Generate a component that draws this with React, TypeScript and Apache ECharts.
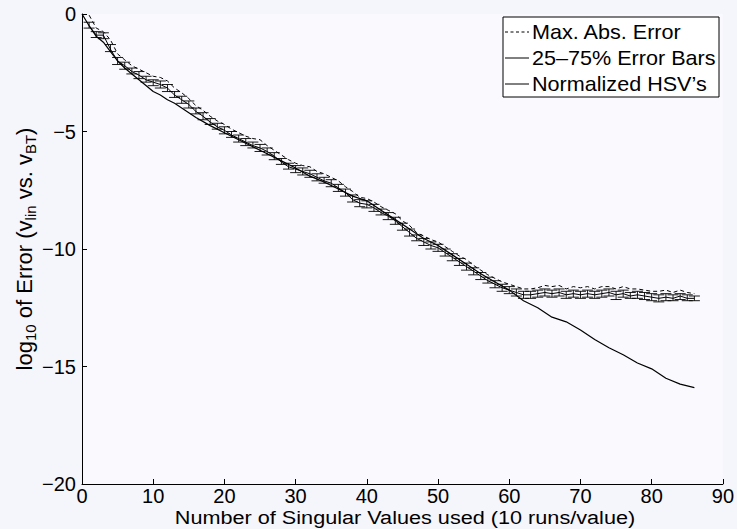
import React, { useEffect, useRef } from 'react';
import * as echarts from 'echarts';

// Number of singular values used: 1..86 (median of 10 runs)
const medianErr = [
  -0.5, -0.9, -0.9, -1.5, -2.0, -2.2, -2.45, -2.6, -2.8, -2.9,
  -3.0, -3.15, -3.45, -3.65, -3.85, -4.15, -4.35, -4.6, -4.8, -4.95,
  -5.15, -5.3, -5.45, -5.6, -5.7, -5.85, -6.05, -6.3, -6.5, -6.6,
  -6.7, -6.8, -6.95, -7.1, -7.2, -7.4, -7.6, -7.9, -8.05, -8.1,
  -8.25, -8.45, -8.6, -8.8, -9.05, -9.3, -9.55, -9.7, -9.85, -9.95,
  -10.15, -10.35, -10.55, -10.75, -10.95, -11.15, -11.35, -11.5, -11.65, -11.75,
  -11.85, -11.95, -11.95, -11.9, -11.85, -11.9, -11.85, -11.95, -11.9, -11.95,
  -11.9, -11.95, -11.9, -11.85, -11.95, -11.9, -12.0, -11.95, -12.0, -12.05,
  -12.1, -12.05, -12.1, -12.0, -12.1, -12.1,
];

const q75Err = [
  -0.35, -0.75, -0.8, -1.3, -1.85, -2.05, -2.3, -2.45, -2.65, -2.8,
  -2.85, -3.0, -3.3, -3.5, -3.7, -4.0, -4.2, -4.45, -4.65, -4.8,
  -5.0, -5.15, -5.3, -5.45, -5.55, -5.7, -5.9, -6.15, -6.35, -6.45,
  -6.55, -6.65, -6.8, -6.95, -7.05, -7.25, -7.45, -7.7, -7.9, -7.95,
  -8.1, -8.3, -8.45, -8.65, -8.9, -9.15, -9.4, -9.55, -9.7, -9.8,
  -10.0, -10.2, -10.4, -10.6, -10.8, -11.0, -11.2, -11.35, -11.5, -11.6,
  -11.7, -11.8, -11.8, -11.75, -11.7, -11.75, -11.7, -11.8, -11.75, -11.8,
  -11.75, -11.8, -11.75, -11.7, -11.8, -11.75, -11.85, -11.8, -11.85, -11.9,
  -11.95, -11.9, -11.95, -11.9, -11.95, -12.0,
];

const q25Err = [
  -0.6, -1.0, -1.05, -1.6, -2.15, -2.35, -2.55, -2.75, -2.9, -3.05,
  -3.15, -3.3, -3.55, -3.8, -4.0, -4.25, -4.5, -4.7, -4.9, -5.1,
  -5.25, -5.45, -5.6, -5.7, -5.85, -6.0, -6.2, -6.4, -6.6, -6.75,
  -6.85, -6.95, -7.1, -7.2, -7.35, -7.55, -7.75, -8.0, -8.2, -8.25,
  -8.4, -8.55, -8.75, -8.95, -9.2, -9.45, -9.65, -9.85, -10.0, -10.1,
  -10.3, -10.5, -10.7, -10.9, -11.1, -11.3, -11.45, -11.65, -11.8, -11.9,
  -12.0, -12.1, -12.1, -12.05, -12.0, -12.05, -12.0, -12.1, -12.05, -12.1,
  -12.05, -12.1, -12.05, -12.0, -12.15, -12.05, -12.1, -12.1, -12.15, -12.2,
  -12.25, -12.2, -12.2, -12.15, -12.2, -12.2,
];

const maxAbsErr = [
  -0.05, -0.6, -0.75, -1.1, -1.7, -1.95, -2.2, -2.35, -2.5, -2.65,
  -2.7, -2.85, -3.15, -3.35, -3.6, -3.9, -4.1, -4.35, -4.55, -4.7,
  -4.9, -5.05, -5.2, -5.3, -5.35, -5.6, -5.8, -6.0, -6.2, -6.35,
  -6.45, -6.5, -6.7, -6.8, -6.95, -7.1, -7.35, -7.55, -7.8, -7.85,
  -8.0, -8.2, -8.35, -8.5, -8.8, -9.0, -9.3, -9.45, -9.6, -9.7,
  -9.9, -10.1, -10.3, -10.45, -10.7, -10.9, -11.1, -11.25, -11.4, -11.5,
  -11.6, -11.7, -11.7, -11.65, -11.55, -11.6, -11.55, -11.7, -11.6, -11.65,
  -11.6, -11.7, -11.6, -11.6, -11.7, -11.6, -11.7, -11.7, -11.75, -11.8,
  -11.8, -11.75, -11.85, -11.75, -11.85, -11.9,
];

// Normalized HSV curve: [number of singular values, log10 error]
const hsvPoints: [number, number][] = [
  [0, 0], [1, -0.5], [2, -0.95], [3, -1.2], [4, -1.6], [5, -2.0], [6, -2.3],
  [7, -2.55], [8, -2.8], [10, -3.3], [11, -3.45], [12, -3.65], [13, -3.8],
  [14, -4.0], [16, -4.4], [18, -4.75], [20, -5.05], [22, -5.35], [24, -5.65],
  [26, -5.95], [28, -6.25], [30, -6.55], [32, -6.9], [34, -7.15], [36, -7.45],
  [38, -7.75], [40, -7.95], [42, -8.35], [44, -8.75], [46, -9.15], [48, -9.55],
  [50, -9.85], [52, -10.25], [54, -10.65], [56, -11.05], [58, -11.4], [60, -11.75],
  [62, -12.2], [64, -12.5], [66, -12.9], [68, -13.1], [70, -13.45], [72, -13.85],
  [74, -14.2], [76, -14.5], [78, -14.85], [80, -15.1], [82, -15.5], [84, -15.75],
  [86, -15.9],
];

const xTicks = [0, 10, 20, 30, 40, 50, 60, 70, 80, 90];
const yTicks = [-20, -15, -10, -5, 0];

const legendNames = ['Max. Abs. Error', '25–75% Error Bars', 'Normalized HSV’s'];
const legendDash = [true, false, false];

const FONT = '"Liberation Sans", Arial, Helvetica, sans-serif';

export default function App() {
  const ref = useRef<HTMLDivElement>(null);

  useEffect(() => {
    document.body.style.margin = '0';
    if (!ref.current) return;
    const chart = echarts.init(ref.current, undefined, { renderer: 'svg' });

    const xs = medianErr.map((_, i) => i + 1);
    const medianData = xs.map((x, i) => [x, medianErr[i]]);
    const maxData = xs.map((x, i) => [x, maxAbsErr[i]]);
    const barData = xs.map((x, i) => [x, q25Err[i], q75Err[i]]);

    const fmt = (v: number) => (v < 0 ? '\u2212' + String(-v) : String(v));

    const legendItems: any[] = [];
    legendNames.forEach((name, i) => {
      const cy = 32 + i * 26;
      legendItems.push({
        type: 'line',
        z: 11,
        shape: { x1: 505, y1: cy, x2: 529, y2: cy },
        style: { stroke: '#000', lineWidth: 1, lineDash: legendDash[i] ? [3, 2.5] : null },
      });
      legendItems.push({
        type: 'text',
        z: 11,
        x: 532,
        y: cy,
        scaleX: 1.08,
        style: {
          text: name,
          fill: '#000',
          font: '20px ' + FONT,
          textAlign: 'left',
          textVerticalAlign: 'middle',
        },
      });
    });

    chart.setOption({
      animation: false,
      backgroundColor: '#f5f5fc',
      grid: {
        left: 82,
        right: 12,
        top: 14,
        bottom: 45,
        show: true,
        backgroundColor: '#f9f9fe',
        borderWidth: 0,
      },
      xAxis: {
        type: 'value',
        min: xTicks[0],
        max: xTicks[xTicks.length - 1],
        interval: 10,
        axisLine: { show: true, onZero: false, lineStyle: { color: '#000', width: 1 } },
        axisTick: { show: true, inside: true, length: 5, lineStyle: { color: '#000' } },
        axisLabel: { color: '#000', fontSize: 20, fontFamily: FONT, margin: 2 },
        splitLine: { show: false },
      },
      yAxis: {
        type: 'value',
        min: yTicks[0],
        max: yTicks[yTicks.length - 1],
        interval: 5,
        axisLine: { show: true, onZero: false, lineStyle: { color: '#000', width: 1 } },
        axisTick: { show: true, inside: true, length: 5, lineStyle: { color: '#000' } },
        axisLabel: { color: '#000', fontSize: 20, fontFamily: FONT, margin: 6, formatter: fmt },
        splitLine: { show: false },
      },
      graphic: [
        {
          type: 'rect',
          z: 10,
          shape: { x: 503, y: 17, width: 216, height: 80 },
          style: { fill: '#ffffff', stroke: '#000', lineWidth: 1 },
        },
        ...legendItems,
        {
          type: 'text',
          x: 405,
          y: 517,
          scaleX: 1.14,
          style: {
            text: 'Number of Singular Values used (10 runs/value)',
            fill: '#000',
            font: '19px ' + FONT,
            textAlign: 'center',
            textVerticalAlign: 'middle',
          },
        },
        {
          type: 'text',
          x: 24,
          y: 249,
          rotation: Math.PI / 2,
          style: {
            text: '{m|log}{s|10}{m| of Error (v}{s|lin}{m| vs. v}{s|BT}{m|)}',
            fill: '#000',
            textAlign: 'center',
            textVerticalAlign: 'middle',
            rich: {
              m: { fontSize: 22, fontFamily: FONT, color: '#000', lineHeight: 28, verticalAlign: 'middle' },
              s: { fontSize: 15, fontFamily: FONT, color: '#000', lineHeight: 15, verticalAlign: 'bottom' },
            },
          },
        },
      ],
      series: [
        {
          name: 'Max. Abs. Error',
          type: 'line',
          data: maxData,
          symbol: 'none',
          lineStyle: { color: '#000', width: 1, type: [4, 3] },
          itemStyle: { color: '#000' },
          z: 3,
        },
        {
          name: 'errbars',
          type: 'custom',
          data: barData,
          encode: { x: 0, y: [1, 2] },
          z: 3,
          renderItem: (params: any, api: any) => {
            const x = api.value(0);
            const lo = api.coord([x, api.value(1)]);
            const hi = api.coord([x, api.value(2)]);
            const hw = 5.5;
            const style = { stroke: '#000', lineWidth: 0.9 };
            return {
              type: 'group',
              children: [
                { type: 'line', shape: { x1: lo[0], y1: lo[1], x2: hi[0], y2: hi[1] }, style },
                { type: 'line', shape: { x1: lo[0] - hw, y1: lo[1], x2: lo[0] + hw, y2: lo[1] }, style },
                { type: 'line', shape: { x1: hi[0] - hw, y1: hi[1], x2: hi[0] + hw, y2: hi[1] }, style },
              ],
            };
          },
        },
        {
          name: '25–75% Error Bars',
          type: 'line',
          data: medianData,
          symbol: 'none',
          lineStyle: { color: '#000', width: 1 },
          itemStyle: { color: '#000' },
          z: 3,
        },
        {
          name: 'Normalized HSV’s',
          type: 'line',
          data: hsvPoints,
          symbol: 'none',
          lineStyle: { color: '#000', width: 1.2 },
          itemStyle: { color: '#000' },
          z: 3,
        },
      ],
    });

    return () => chart.dispose();
  }, []);

  return <div ref={ref} style={{ width: 737, height: 529 }} />;
}
